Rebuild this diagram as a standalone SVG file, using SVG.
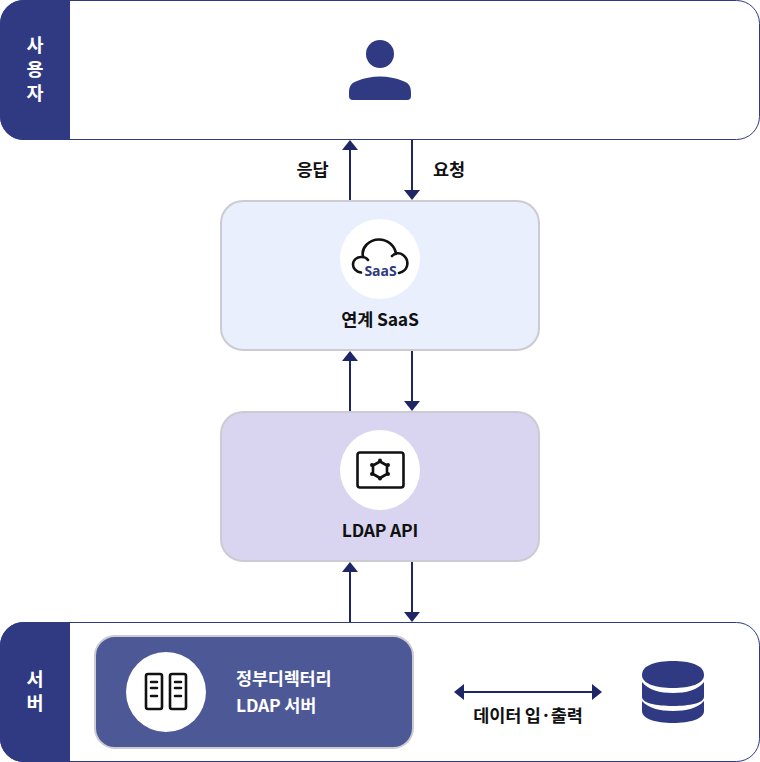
<svg xmlns="http://www.w3.org/2000/svg" width="760" height="762" viewBox="0 0 760 762">
<style>
text{font-family:"Noto Sans CJK KR","Noto Sans",sans-serif;font-weight:700;letter-spacing:-.2px}
.lane{fill:#fff;stroke:#2f3a83;stroke-width:1}
.tab{fill:#2f3a83}
.side{fill:#fff;font-size:18.500px;font-weight:700;text-anchor:middle}
.lb{fill:#111;font-size:17.500px;text-anchor:middle}
.wt{fill:#fff;font-size:17.500px}
.con{fill:none;stroke:#1f2666;stroke-width:2}
.head{fill:#1f2666}
.ic{fill:none;stroke:#111;stroke-width:2.600;stroke-linejoin:round;stroke-linecap:round}
.box{stroke:#cbcbd1;stroke-width:2}
</style>
<g id="user-lane">
<rect class="lane" x=".5" y=".5" width="759" height="139" rx="23"/>
<path class="tab" d="M70 0H24A24 24 0 0 0 0 24V116A24 24 0 0 0 24 140H70z"/>
<text class="side" x="35" y="52">사</text><text class="side" x="35" y="76">용</text><text class="side" x="35" y="100">자</text>
<circle class="tab" cx="380" cy="54" r="14"/>
<path class="tab" d="M349 93C349 85 352 83 357 81C371 75 389 75 403 81C408 83 411 85 411 93V96Q411 100 407 100H353Q349 100 349 96z"/>
</g>
<g id="server-lane">
<rect class="lane" x=".5" y="622.500" width="759" height="139" rx="23"/>
<path class="tab" d="M70 622H24A24 24 0 0 0 0 646V738A24 24 0 0 0 24 762H70z"/>
<text class="side" x="35" y="686">서</text><text class="side" x="35" y="710">버</text>
</g>
<g id="connectors">
<path class="con" d="M350 200V150"/><path class="head" d="M342 150L350 140 358 150z"/>
<path class="con" d="M412 140V190"/><path class="head" d="M404 190H420L412 200z"/>
<path class="con" d="M350 411V361"/><path class="head" d="M342 361L350 351 358 361z"/>
<path class="con" d="M412 351V401"/><path class="head" d="M404 401H420L412 411z"/>
<path class="con" d="M350 622V572"/><path class="head" d="M342 572L350 562 358 572z"/>
<path class="con" d="M412 562V612"/><path class="head" d="M404 612H420L412 622z"/>
<path class="con" d="M463 692H593"/><path class="head" d="M464 684V700L454 692z"/><path class="head" d="M592 684V700L602 692z"/>
</g>
<text class="lb" x="312.500" y="176">응답</text>
<text class="lb" x="449" y="176">요청</text>
<g id="saas">
<rect class="box" x="221" y="201" width="318" height="149" rx="22" fill="#e9effd"/>
<circle cx="380" cy="259" r="40" fill="#fff"/>
<path class="ic" d="M361 272.500C356 272 353 268 353 264.500C353 260 357 256.500 362 257C365 257 367 258.500 368 260M363 256C361 248 369 239.500 379 239.500C388 239.500 395 246 396 254M392 256C395 252.500 400 252.500 403 255C407 258 408 262 407 266C406 270 403 272 399 273"/>
<text x="380.500" y="276" text-anchor="middle" font-size="14" style="font-family:'Noto Sans','Noto Sans CJK KR',sans-serif;font-weight:700;fill:#2f3a83;letter-spacing:0">SaaS</text>
<text class="lb" x="380" y="326">연계 SaaS</text>
</g>
<g id="ldap-api">
<rect class="box" x="221" y="412" width="318" height="149" rx="22" fill="#d9d5f0"/>
<circle cx="380" cy="470" r="40" fill="#fff"/>
<rect class="ic" x="357.500" y="452.500" width="46" height="35" rx="2.500"/>
<path class="ic" d="M380 461.500L387 465.500V474L380 478L373 474V465.500z"/>
<circle cx="380" cy="460.500" r="2" fill="#111"/><circle cx="380" cy="478.500" r="2" fill="#111"/><circle cx="372" cy="465" r="2" fill="#111"/><circle cx="388" cy="465" r="2" fill="#111"/><circle cx="372" cy="474" r="2" fill="#111"/><circle cx="388" cy="474" r="2" fill="#111"/>
<text class="lb" x="380" y="537">LDAP API</text>
</g>
<g id="ldap-server">
<rect class="box" x="95" y="636" width="318" height="112" rx="20" fill="#4d5897"/>
<circle cx="166" cy="692" r="40" fill="#fff"/>
<rect class="ic" x="146" y="674" width="16" height="35" rx="2"/><rect class="ic" x="170" y="674" width="16" height="35" rx="2"/>
<path class="ic" d="M151 682H157M151 688H157M151 696H157M175 682H181M175 688H181M175 696H181"/>
<text class="wt" x="236" y="685">정부디렉터리</text>
<text class="wt" x="236" y="712">LDAP 서버</text>
</g>
<text class="lb" x="528" y="722">데이터 입·출력</text>
<g id="database">
<path class="tab" d="M642 675C642 665 656 661 673 661C690 661 704 665 704 675C704 684 690 688 673 688C656 688 642 684 642 675z"/>
<path class="tab" d="M642 682C648 690 660 693 673 693C686 693 698 690 704 682V697C704 703 690 706 673 706C656 706 642 703 642 697z"/>
<path class="tab" d="M642 701C648 708 660 711 673 711C686 711 698 708 704 701V711C704 719 690 723 673 723C656 723 642 719 642 711z"/>
</g>
</svg>
